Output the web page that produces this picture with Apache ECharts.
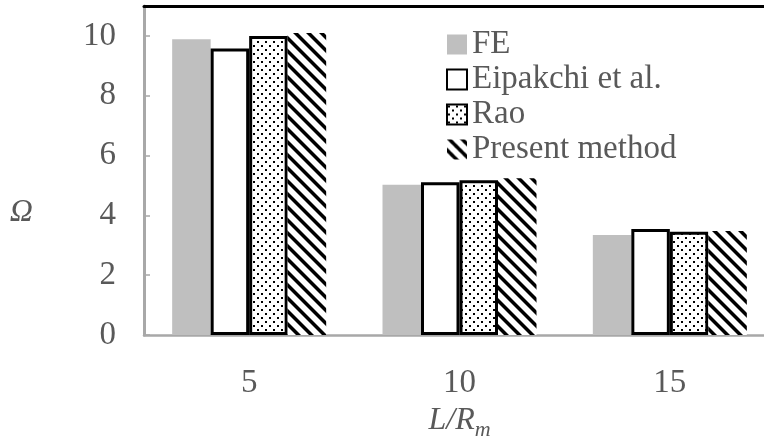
<!DOCTYPE html>
<html>
<head>
<meta charset="utf-8">
<script src="https://cdn.jsdelivr.net/npm/echarts@6/dist/echarts.min.js"></script>
<style>
  html, body { margin: 0; padding: 0; background: #ffffff; }
  #chart { width: 764px; height: 438px; }
</style>
</head>
<body>
<div id="chart"></div>
<script>
// Frequency parameter Ω for three slenderness ratios L/Rm
const categories = ['5', '10', '15'];
const seriesNames = ['FE', 'Eipakchi et al.', 'Rao', 'Present method'];
const feValues = [9.89, 5.02, 3.34];
const eipakchiValues = [9.58, 5.11, 3.54];
const raoValues = [10.00, 5.17, 3.45];
const presentValues = [10.10, 5.24, 3.48];
const yTicks = { min: 0, max: 11, interval: 2 };

const FONT = '"Liberation Serif", "Times New Roman", serif';
const TEXT_GRAY = '#595959';
const AXIS_GRAY = '#a8a8a8';

// Dotted fill: staggered black dots on white
function dotPattern() {
  const c = document.createElement('canvas');
  c.width = 8; c.height = 8;
  const g = c.getContext('2d');
  g.fillStyle = '#ffffff';
  g.fillRect(0, 0, 8, 8);
  g.fillStyle = '#000000';
  g.fillRect(1, 1, 2, 2);
  g.fillRect(5, 5, 2, 2);
  return c;
}

// Wide downward-diagonal stripes
function stripePattern() {
  const T = 13, w = 5;
  const c = document.createElement('canvas');
  c.width = T; c.height = T;
  const g = c.getContext('2d');
  g.fillStyle = '#ffffff';
  g.fillRect(0, 0, T, T);
  g.fillStyle = '#000000';
  for (const off of [-T, 0, T]) {
    g.beginPath();
    g.moveTo(off, 0);
    g.lineTo(off + w, 0);
    g.lineTo(off + w + T, T);
    g.lineTo(off + T, T);
    g.closePath();
    g.fill();
  }
  return c;
}

const chart = echarts.init(document.getElementById('chart'), null, { renderer: 'canvas' });

const barCommon = { type: 'bar', barWidth: 38.5, barGap: '0%', xAxisIndex: 0, yAxisIndex: 0 };

chart.setOption({
  animation: false,
  backgroundColor: '#ffffff',
  grid: { left: 144, top: 6, width: 631, height: 329, containLabel: false, outerBoundsMode: 'none' },
  legend: {
    orient: 'vertical',
    left: 441,
    top: 23,
    itemWidth: 20,
    itemHeight: 20,
    itemGap: 2,
    icon: 'rect',
    data: seriesNames,
    textStyle: { fontFamily: FONT, fontSize: 33, lineHeight: 33, color: TEXT_GRAY }
  },
  xAxis: [
    {
      type: 'category',
      data: categories,
      boundaryGap: true,
      name: '{i|L/R}{s|m}',
      nameLocation: 'middle',
      nameGap: 65,
      nameTextStyle: {
        rich: {
          i: { fontFamily: FONT, fontStyle: 'italic', fontSize: 32, color: TEXT_GRAY, lineHeight: 40 },
          s: { fontFamily: FONT, fontStyle: 'italic', fontSize: 22, color: TEXT_GRAY, lineHeight: 40, verticalAlign: 'bottom', padding: [14, 0, 0, 0] }
        }
      },
      axisLine: { show: true, lineStyle: { color: AXIS_GRAY, width: 2.5 } },
      axisTick: { show: false },
      axisLabel: { fontFamily: FONT, fontSize: 33, color: TEXT_GRAY, margin: 32 },
      splitLine: { show: false }
    },
    {
      type: 'category',
      position: 'top',
      data: categories,
      axisLine: { show: true, lineStyle: { color: '#000000', width: 3 } },
      axisTick: { show: false },
      axisLabel: { show: false },
      splitLine: { show: false }
    }
  ],
  yAxis: {
    type: 'value',
    min: yTicks.min,
    max: yTicks.max,
    interval: yTicks.interval,
    name: 'Ω',
    nameLocation: 'middle',
    nameGap: 111,
    nameRotate: 0,
    nameTextStyle: { fontFamily: FONT, fontStyle: 'italic', fontSize: 32, color: TEXT_GRAY, verticalAlign: 'top', lineHeight: 85 },
    axisLine: { show: true, lineStyle: { color: AXIS_GRAY, width: 3 } },
    axisTick: { show: true, inside: true, length: 6, lineStyle: { color: AXIS_GRAY, width: 1.5 } },
    axisLabel: { fontFamily: FONT, fontSize: 33, color: TEXT_GRAY, margin: 28, showMaxLabel: false, padding: [6, 0, 0, 0] },
    splitLine: { show: false }
  },
  series: [
    Object.assign({}, barCommon, {
      name: seriesNames[0],
      data: feValues,
      itemStyle: { color: '#bfbfbf' }
    }),
    Object.assign({}, barCommon, {
      name: seriesNames[1],
      data: eipakchiValues,
      itemStyle: { color: '#ffffff', borderColor: '#000000', borderWidth: 3 }
    }),
    Object.assign({}, barCommon, {
      name: seriesNames[2],
      data: raoValues,
      itemStyle: { color: { image: dotPattern(), repeat: 'repeat' }, borderColor: '#000000', borderWidth: 3 }
    }),
    Object.assign({}, barCommon, {
      name: seriesNames[3],
      data: presentValues,
      itemStyle: { color: { image: stripePattern(), repeat: 'repeat' } }
    })
  ]
});
</script>
</body>
</html>
